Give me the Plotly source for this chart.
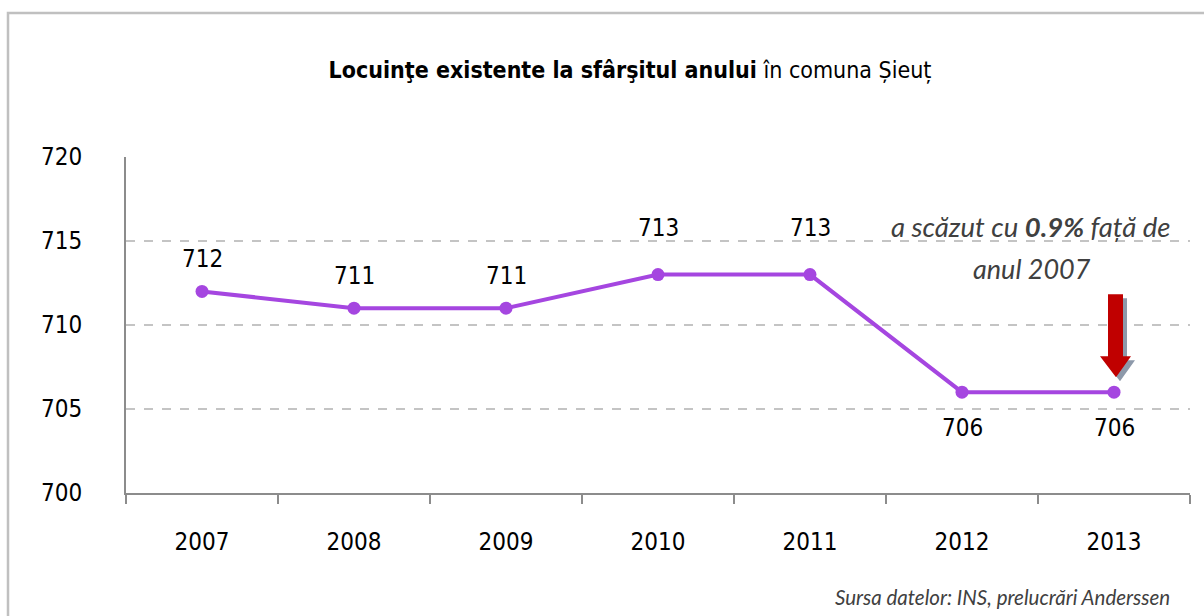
import plotly.graph_objects as go

# Housing stock at year end, commune of Șieuț
years = ["2007", "2008", "2009", "2010", "2011", "2012", "2013"]
dwellings = [712, 711, 711, 713, 713, 706, 706]
y_ticks = [700, 705, 710, 715, 720]
decrease_pct = 0.9  # decrease 2013 vs 2007, as published

# label placement: above the marker except for the last two years
label_side = ["top", "top", "top", "top", "top", "bottom", "bottom"]
label_gap = [32, 32, 32, 47, 47, 36, 36]

W, H = 1204, 616
ML, MR, MT, MB = 126, 14, 157, 123
PW, PH = W - ML - MR, H - MT - MB

NARROW = "Liberation Sans Narrow, Arial Narrow, DejaVu Sans Condensed, sans-serif"
ITALIC = "Lato, Open Sans, sans-serif"
LINE_COLOR = "#a546e0"
AXIS_COLOR = "#8c8c8c"


def px_x(p):
    return (p - ML) / PW


def px_y(p):
    return (H - MB - p) / PH


idx = list(range(len(years)))

fig = go.Figure()
fig.add_trace(go.Scatter(
    x=idx, y=dwellings, mode="lines+markers",
    line=dict(color=LINE_COLOR, width=4),
    marker=dict(color=LINE_COLOR, size=13),
    customdata=years, hovertemplate="%{customdata}: %{y}<extra></extra>",
    showlegend=False,
))

annotations = []
for i, v, side, gap in zip(idx, dwellings, label_side, label_gap):
    annotations.append(dict(
        x=i, y=v, xref="x", yref="y", text=str(v), showarrow=False,
        yshift=gap if side == "top" else -gap,
        font=dict(family=NARROW, size=24, color="#000000"),
    ))

annotations.append(dict(
    x=px_x(1030), y=px_y(226), xref="paper", yref="paper", showarrow=False,
    text=f"<i>a scăzut cu <b>{decrease_pct:.1f}%</b> față de</i>",
    font=dict(family=ITALIC, size=27.5, color="#404040"),
    xanchor="center", yanchor="middle",
))
annotations.append(dict(
    x=px_x(1032), y=px_y(268), xref="paper", yref="paper", showarrow=False,
    text=f"<i>anul {years[0]}</i>",
    font=dict(family=ITALIC, size=27, color="#404040"),
    xanchor="center", yanchor="middle",
))
annotations.append(dict(
    x=px_x(1172), y=px_y(597), xref="paper", yref="paper", showarrow=False,
    text="<i>Sursa datelor: INS, prelucrări Anderssen</i>",
    font=dict(family=ITALIC, size=20.5, color="#404040"),
    xanchor="right", yanchor="middle",
))


def arrow_path(dx, dy):
    pts = [(-6, 98), (9, 98), (9, 36), (17, 36), (2, 15), (-14, 36), (-6, 36)]
    return "M " + " L ".join(f"{x + dx},{y + dy}" for x, y in pts) + " Z"


last = idx[-1]
shapes = [
    # outer frame
    dict(type="rect", xref="paper", yref="paper",
         x0=px_x(8), x1=px_x(W + 20), y0=px_y(13), y1=px_y(H + 20),
         line=dict(color="#c0c0c0", width=2.5), fillcolor="rgba(0,0,0,0)", layer="below"),
    # arrow shadow and arrow over the last point
    dict(type="path", xref="x", yref="y", xsizemode="pixel", ysizemode="pixel",
         xanchor=last, yanchor=dwellings[-1], path=arrow_path(4, -4),
         fillcolor="#8d99aa", line=dict(width=0)),
    dict(type="path", xref="x", yref="y", xsizemode="pixel", ysizemode="pixel",
         xanchor=last, yanchor=dwellings[-1], path=arrow_path(0, 0),
         fillcolor="#c00000", line=dict(width=0)),
]

fig.update_layout(
    width=W, height=H,
    margin=dict(l=ML, r=MR, t=MT, b=MB),
    paper_bgcolor="white", plot_bgcolor="white",
    title=dict(
        text="<b>Locuinţe existente la sfârşitul anului</b> în comuna Șieuț",
        x=630 / W, y=1 - 70 / H, xref="container", yref="container",
        xanchor="center", yanchor="middle",
        font=dict(family=NARROW, size=23, color="#000000"),
    ),
    xaxis=dict(
        range=[-0.5, len(years) - 0.5],
        tickvals=idx, ticktext=years,
        showline=True, linecolor=AXIS_COLOR, linewidth=2,
        ticks="", showgrid=False, ticklabelstandoff=26, zeroline=False,
        tickfont=dict(family=NARROW, size=24, color="#000000"),
        minor=dict(tickvals=[i - 0.5 for i in idx] + [idx[-1] + 0.5],
                   ticks="outside", ticklen=9, tickwidth=2, tickcolor=AXIS_COLOR,
                   showgrid=False),
    ),
    yaxis=dict(
        range=[700, 720], tickvals=y_ticks,
        showline=True, linecolor=AXIS_COLOR, linewidth=2,
        showgrid=True, gridcolor="#c4c4c4", gridwidth=1.5, griddash="dash",
        zeroline=False, ticks="", ticklabelstandoff=37,
        tickfont=dict(family=NARROW, size=24, color="#000000"),
    ),
    annotations=annotations,
    shapes=shapes,
)

fig.write_html("out.html")
